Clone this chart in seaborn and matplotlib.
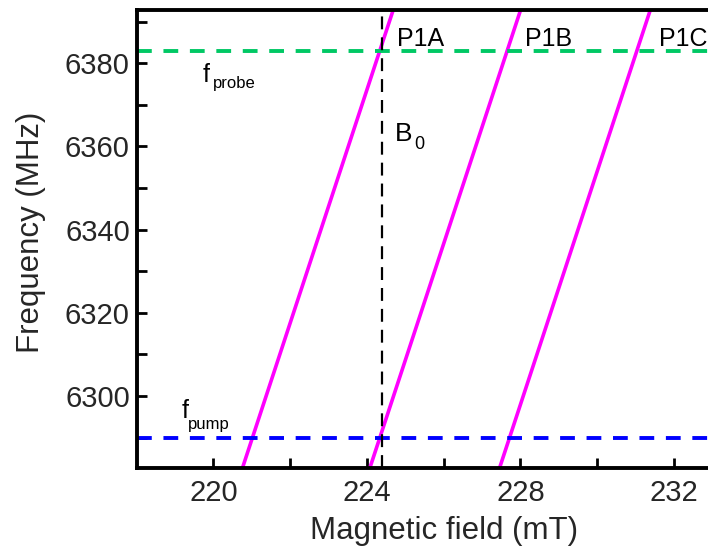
import numpy as np
import pandas as pd
import matplotlib
matplotlib.use("Agg")
import matplotlib.pyplot as plt
import seaborn as sns

# resonance lines: field (mT) at the two ends of the frequency span
freq_ends = [6280, 6400]
field_p1a = [220.66, 224.94]
field_p1b = [223.98, 228.26]
field_p1c = [227.36, 231.64]
line_names = ["P1A", "P1B", "P1C"]

f_probe = 6383.0
f_pump = 6290.0
b0_field = 224.38

x_ticks = [220, 224, 228, 232]
y_ticks = [6300, 6320, 6340, 6360, 6380]

sns.set_theme(style="ticks")
plt.rcParams["font.family"] = ["Liberation Sans", "DejaVu Sans"]

rows = []
for name, fields in zip(line_names, [field_p1a, field_p1b, field_p1c]):
    for b, f in zip(fields, freq_ends):
        rows.append({"line": name, "field": b, "freq": f})
df = pd.DataFrame(rows)

fig = plt.figure(figsize=(7.08, 5.52), dpi=100)
ax = fig.add_axes([0.1931, 0.1516, 0.8672, 0.8302])

sns.lineplot(data=df, x="field", y="freq", units="line", estimator=None,
             color="#ff00ff", lw=2.6, ax=ax, sort=False)

ax.axhline(f_probe, color="#00c864", lw=2.8, ls=(0, (3.8, 3.0)))
ax.axhline(f_pump, color="#0000ff", lw=2.8, ls=(0, (3.8, 3.0)))
ax.axvline(b0_field, color="black", lw=1.6, ls=(0, (5.8, 3.6)))

ax.set_xlim(218, 234)
ax.set_ylim(6282.6, 6392.8)
ax.set_xticks(x_ticks)
ax.set_yticks(y_ticks)
ax.set_xticks([222, 226, 230], minor=True)
ax.set_yticks([6290, 6310, 6330, 6350, 6370, 6390], minor=True)
ax.tick_params(which="both", direction="in", length=7, width=2, color="black")
ax.tick_params(axis="both", labelsize=21, labelcolor="#262626")
ax.tick_params(axis="x", pad=8)
ax.tick_params(axis="y", pad=5)
for s in ax.spines.values():
    s.set_linewidth(2.8)
    s.set_color("black")

ax.set_xlabel("Magnetic field (mT)", fontsize=22.5, color="#262626", labelpad=6)
ax.set_ylabel("Frequency (MHz)", fontsize=22.5, color="#262626")
ax.yaxis.set_label_coords(-0.148, 0.515)

label_x = [224.78, 228.11, 231.6]
for name, lx in zip(line_names, label_x):
    ax.text(lx, 6384.2, name, fontsize=18, color="black", ha="left", va="baseline")


def sub_label(x, y, main, sub, size, sub_size, dx, dy):
    ax.text(x, y, main, fontsize=size, color="black", ha="left", va="baseline")
    ax.annotate(sub, xy=(x, y), xytext=(dx, dy), textcoords="offset points",
                fontsize=sub_size, color="black", ha="left", va="baseline")


sub_label(219.73, 6375.6, "f", "probe", 18, 12, 6.8, -4.6)
sub_label(219.17, 6294.65, "f", "pump", 18, 12, 4.6, -7.8)
sub_label(224.73, 6361.4, "B", "0", 19, 13, 14.2, -6.2)

fig.savefig("out.png", dpi=100)
plt.close(fig)
